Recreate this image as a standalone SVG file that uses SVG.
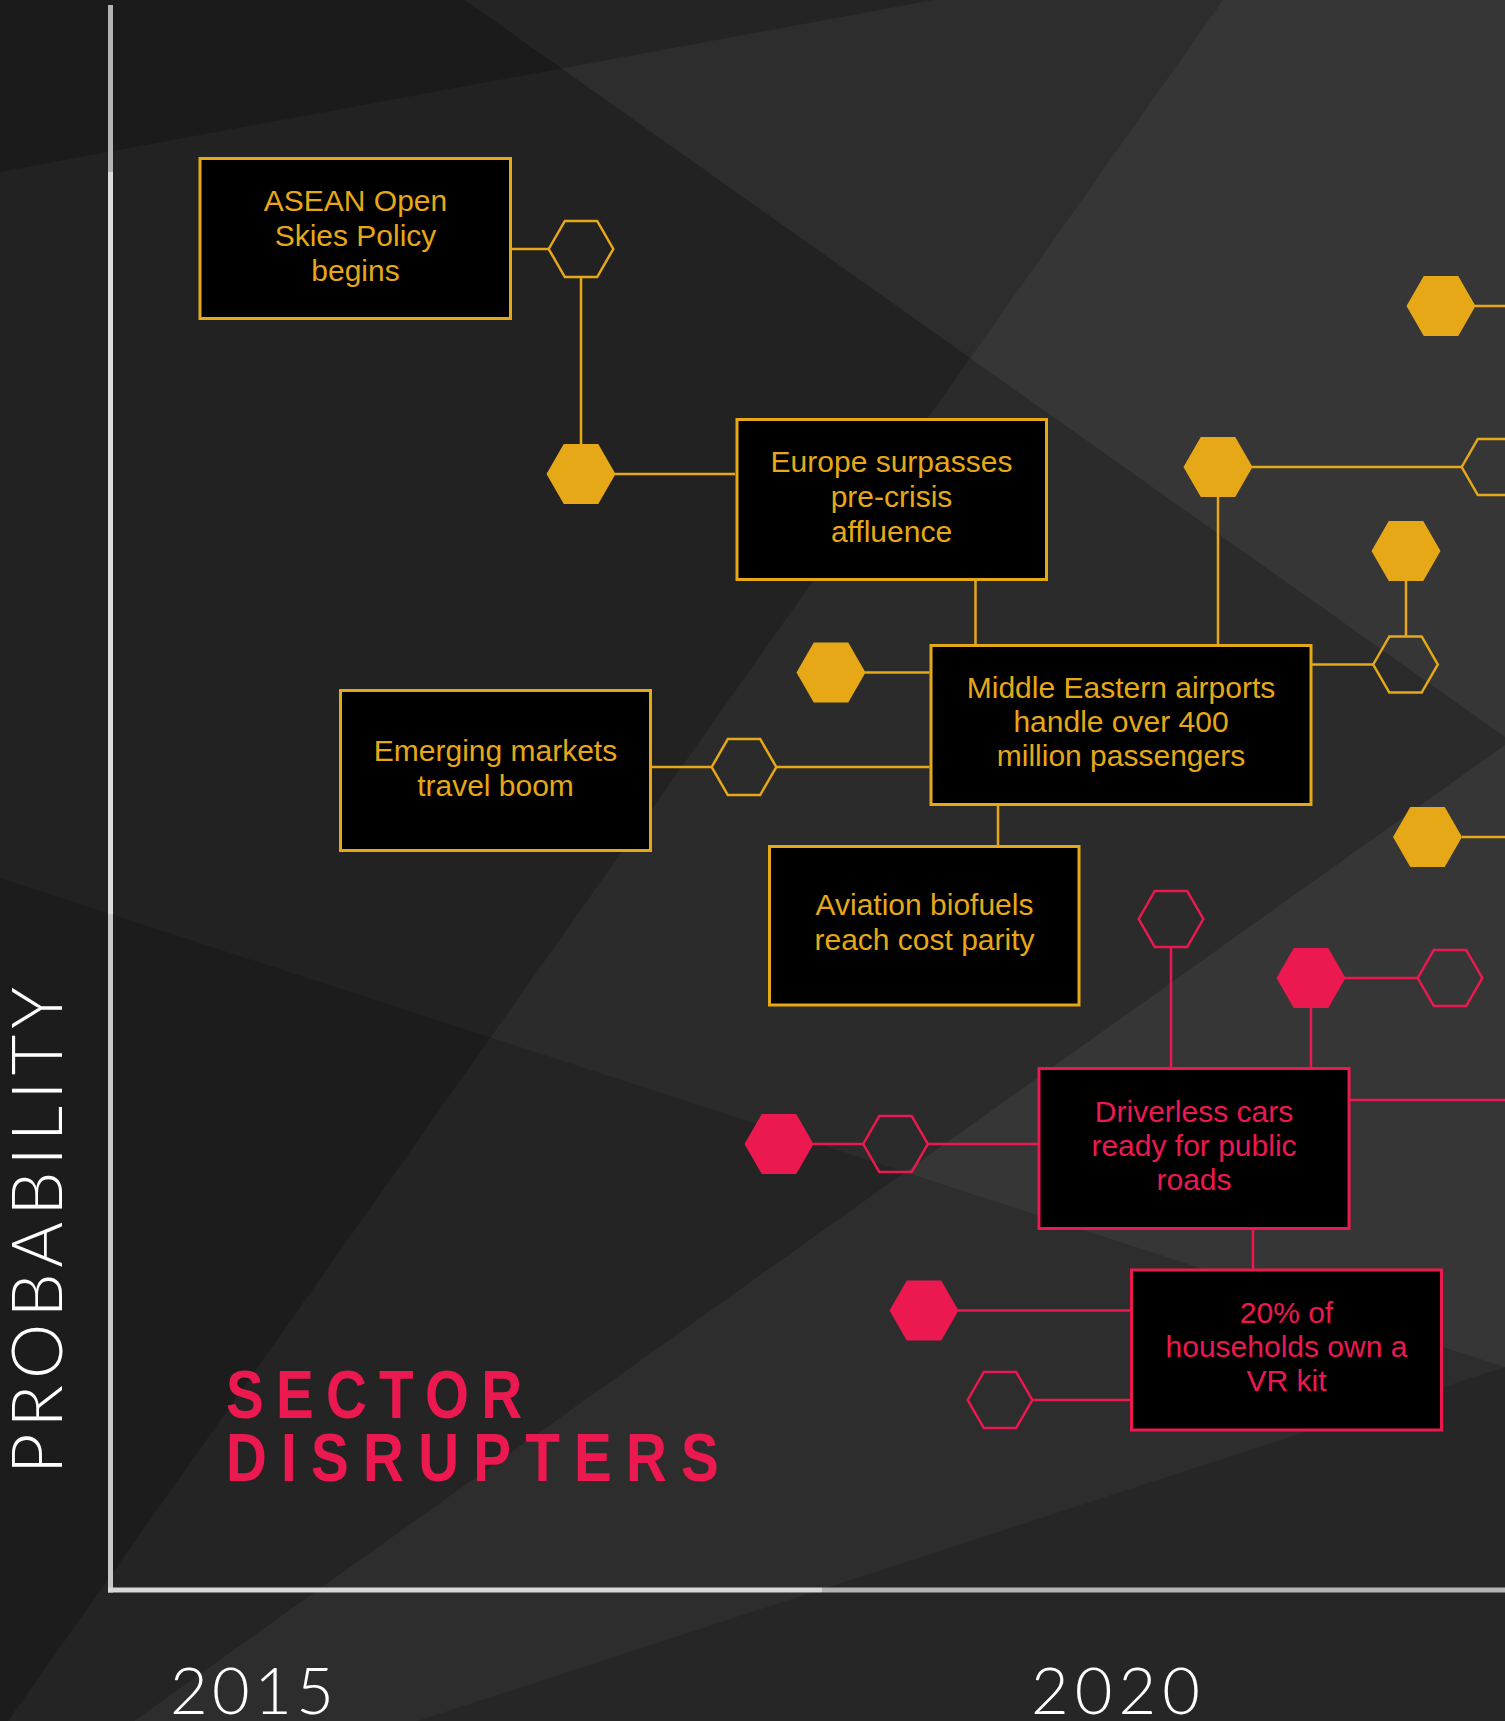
<svg xmlns="http://www.w3.org/2000/svg" xmlns:xlink="http://www.w3.org/1999/xlink" width="1505" height="1721" viewBox="0 0 1505 1721">
<style>
.lt{fill:#ffffff}
.dk{fill:#000000}
.co{stroke:#E6A817;stroke-width:2.5;fill:none}
.cp{stroke:#EB1950;stroke-width:2.5;fill:none}
.of{fill:#E6A817}
.oo{fill:none;stroke:#E6A817;stroke-width:2.5}
.pf{fill:#EB1950}
.po{fill:none;stroke:#EB1950;stroke-width:2.5}
.bo{fill:#000;stroke:#E6A817;stroke-width:3}
.bp{fill:#000;stroke:#EB1950;stroke-width:3}
.to{fill:#E6A817;font-family:"Liberation Sans",Arial,sans-serif;font-size:30px;text-anchor:middle}
.tp{fill:#EB1950;font-family:"Liberation Sans",Arial,sans-serif;font-size:30px;text-anchor:middle}
.thin{fill:#ffffff;font-family:Lato,"Open Sans","Liberation Sans",sans-serif;font-weight:300}
.title{fill:#EB1950;font-family:"Liberation Sans",Arial,sans-serif;font-weight:bold;font-size:69px}
</style>
<defs>
<polygon id="hx" points="-34.5,0 -17.25,-29.9 17.25,-29.9 34.5,0 17.25,29.9 -17.25,29.9"/>
<polygon id="ho" points="-32.3,0 -16.15,-28 16.15,-28 32.3,0 16.15,28 -16.15,28"/>
</defs>
<g id="background">
<rect x="0" y="0" width="1505" height="1721" fill="#222222"/>
<polygon class="lt" opacity="0.052" points="465,0 1505,0 1505,737"/>
<polygon class="lt" opacity="0.052" points="1505,745 1505,1721 134,1721"/>
<polygon class="lt" opacity="0.045" points="1223,0 1505,0 1505,1721 8,1721"/>
<polygon class="dk" opacity="0.18" points="0,0 934,0 0,172"/>
<polygon class="dk" opacity="0.15" points="0,878 1505,1367 1505,1721 0,1721"/>
<polygon class="dk" opacity="0.145" points="417,1721 1505,1367 1505,1721"/>
</g>
<g id="axes">
<rect x="108" y="5" width="5" height="167" fill="#b4b4b4"/>
<rect x="108" y="172" width="5" height="742" fill="#dcdcdc"/>
<rect x="108" y="914" width="5" height="678.5" fill="#c8c8c8"/>
<rect x="108" y="1587.5" width="714" height="5" fill="#d8d8d8"/>
<rect x="822" y="1587.5" width="683" height="5" fill="#b4b4b4"/>
</g>
<g id="connectors">
<path class="co" d="M512,249 H549 M581,277 V444 M615,474 H735 M975.5,581 V644 M865,672.5 H929.5 M652,767 H712 M776,767 H929.5 M1218,497 V644 M1252,467 H1462 M1475,306 H1505 M1406,581 V637 M1312,664.5 H1373 M1462,837 H1505 M998,806 V845"/>
<path class="cp" d="M1171,947 V1067 M1311,1008 V1067 M1345,978 H1418 M1350,1100 H1505 M813,1144 H863 M928,1144 H1038.5 M1253,1230 V1269 M958,1310.5 H1130 M1032,1400 H1130"/>
</g>
<g id="hex-h1"><use href="#ho" x="581" y="249" class="oo"/></g>
<g id="hex-h2"><use href="#hx" x="581" y="474" class="of"/></g>
<g id="hex-h3"><use href="#hx" x="831" y="672.5" class="of"/></g>
<g id="hex-h4"><use href="#ho" x="744" y="767" class="oo"/></g>
<g id="hex-h5"><use href="#hx" x="1218" y="467" class="of"/></g>
<g id="hex-h6"><use href="#ho" x="1494" y="467" class="oo"/></g>
<g id="hex-h7"><use href="#hx" x="1441" y="306" class="of"/></g>
<g id="hex-h8"><use href="#hx" x="1406" y="551" class="of"/></g>
<g id="hex-h9"><use href="#ho" x="1405.5" y="664.5" class="oo"/></g>
<g id="hex-h10"><use href="#hx" x="1427.5" y="837" class="of"/></g>
<g id="hex-p1"><use href="#ho" x="1171" y="919" class="po"/></g>
<g id="hex-p2"><use href="#hx" x="1311" y="978" class="pf"/></g>
<g id="hex-p3"><use href="#ho" x="1450" y="978" class="po"/></g>
<g id="hex-p4"><use href="#hx" x="779" y="1144" class="pf"/></g>
<g id="hex-p5"><use href="#ho" x="895.5" y="1144" class="po"/></g>
<g id="hex-p6"><use href="#hx" x="924" y="1310.5" class="pf"/></g>
<g id="hex-p7"><use href="#ho" x="1000" y="1400" class="po"/></g>
<g id="node-asean">
<rect class="bo" x="200" y="158.5" width="310.5" height="160"/>
<text class="to"><tspan x="355.5" y="211">ASEAN Open</tspan><tspan x="355.5" y="246">Skies Policy</tspan><tspan x="355.5" y="281">begins</tspan></text>
</g>
<g id="node-europe">
<rect class="bo" x="737" y="419.5" width="309.5" height="160"/>
<text class="to"><tspan x="891.5" y="472">Europe surpasses</tspan><tspan x="891.5" y="507">pre-crisis</tspan><tspan x="891.5" y="542">affluence</tspan></text>
</g>
<g id="node-middle-east">
<rect class="bo" x="931" y="645.5" width="380" height="159"/>
<text class="to"><tspan x="1121" y="698">Middle Eastern airports</tspan><tspan x="1121" y="732">handle over 400</tspan><tspan x="1121" y="766">million passengers</tspan></text>
</g>
<g id="node-emerging">
<rect class="bo" x="340.5" y="690.5" width="310" height="160"/>
<text class="to"><tspan x="495.5" y="761">Emerging markets</tspan><tspan x="495.5" y="796">travel boom</tspan></text>
</g>
<g id="node-biofuels">
<rect class="bo" x="769.5" y="846.5" width="309.5" height="158.5"/>
<text class="to"><tspan x="924.5" y="915">Aviation biofuels</tspan><tspan x="924.5" y="950">reach cost parity</tspan></text>
</g>
<g id="node-driverless">
<rect class="bp" x="1039" y="1068.5" width="310" height="160"/>
<text class="tp"><tspan x="1194" y="1122">Driverless cars</tspan><tspan x="1194" y="1156">ready for public</tspan><tspan x="1194" y="1190">roads</tspan></text>
</g>
<g id="node-vr">
<rect class="bp" x="1131.5" y="1270" width="310" height="160"/>
<text class="tp"><tspan x="1286.5" y="1323">20% of</tspan><tspan x="1286.5" y="1357">households own a</tspan><tspan x="1286.5" y="1391">VR kit</tspan></text>
</g>
<g id="labels">
<text class="thin" font-size="70" transform="translate(62,1474) rotate(-90)" textLength="487" lengthAdjust="spacing">PROBABILITY</text>
<text class="title" transform="translate(226,0) scale(0.82,1)"><tspan x="0" y="1418" textLength="361" lengthAdjust="spacing">SECTOR</tspan><tspan x="0" y="1481.5" textLength="601" lengthAdjust="spacing">DISRUPTERS</tspan></text>
<text class="thin" font-size="65" x="170" y="1714" textLength="164" lengthAdjust="spacing">2015</text>
<text class="thin" font-size="65" x="1031" y="1714" textLength="169" lengthAdjust="spacing">2020</text>
</g>
</svg>
